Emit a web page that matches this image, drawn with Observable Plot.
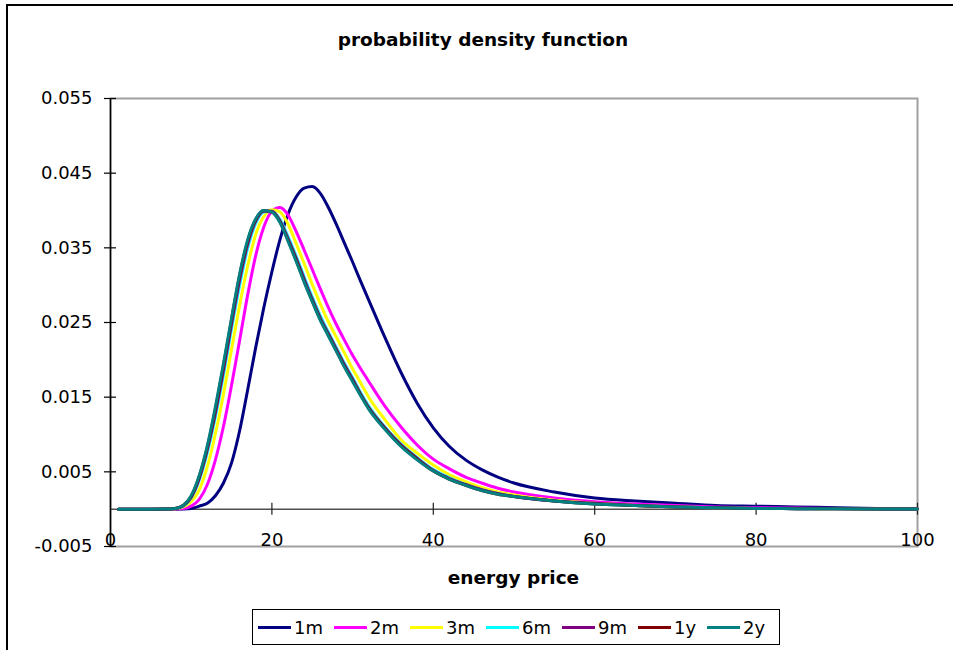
<!DOCTYPE html>
<html>
<head>
<meta charset="utf-8">
<script src="https://cdn.jsdelivr.net/npm/d3@7"></script>
<script src="https://cdn.jsdelivr.net/npm/@observablehq/plot@0.6"></script>
<style>
  html, body { margin: 0; padding: 0; background: #fff; }
  #wrap { position: relative; width: 953px; height: 650px; overflow: hidden; font-family: "DejaVu Sans", sans-serif; color: #000; }
  #border { position: absolute; left: 6px; top: 4px; width: 1000px; height: 700px; border-top: 2px solid #000; border-left: 2px solid #000; }
  #title { position: absolute; left: 0; width: 966px; top: 29px; text-align: center; font-weight: bold; font-size: 18.5px; line-height: 22px; }
  #chart { position: absolute; left: 0; top: 0; }
  #xlabel { position: absolute; left: 110px; width: 807px; top: 567px; text-align: center; font-weight: bold; font-size: 18.5px; line-height: 22px; }
  #legend { position: absolute; left: 252px; top: 609px; width: 521px; height: 34px; border: 1.5px solid #000; display: flex; align-items: center; padding-left: 5px; box-sizing: content-box; gap: 11px; font-size: 18px; }
  .item { display: flex; align-items: center; gap: 3px; }
  .sw { width: 33px; height: 3px; }
</style>
</head>
<body>
<div id="wrap">
  <div id="border"></div>
  <div id="chart"></div>
  <div id="title">probability density function</div>
  <div id="xlabel">energy price</div>
  <div id="legend"></div>
</div>
<script>
// energy price grid
const xs = [1,5,7,8,9,10,11,12,13,14,15,16,17,18,19,20,21,22,23,24,25,26,27,28,29,30,31,32,34,36,38,40,42,44,46,48,50,55,60,65,70,75,80,85,90,95,100];

const s1m = [0,0,0,0,0.00002,0.0001,0.0004,0.0008,0.0018,0.0035,0.0062,0.0105,0.0160,0.0217,0.0270,0.0318,0.0361,0.0395,0.0418,0.0430,0.0432,0.0423,0.0404,0.0381,0.0356,0.0331,0.0305,0.0280,0.0230,0.0183,0.0142,0.0109,0.0084,0.0066,0.0053,0.0043,0.0035,0.0023,0.0015,0.0011,0.0008,0.0005,0.0004,0.0003,0.0002,0.0001,0.00005];
const s2m = [0,0,0,0.00003,0.0001,0.0004,0.0013,0.0033,0.0066,0.0111,0.0166,0.0226,0.0287,0.0340,0.0378,0.0399,0.0404,0.0394,0.0372,0.0347,0.0321,0.0295,0.0270,0.0247,0.0226,0.0206,0.0188,0.0171,0.0138,0.0110,0.0086,0.0067,0.0054,0.0043,0.0035,0.0028,0.0023,0.0015,0.0010,0.0007,0.0005,0.0003,0.0002,0.00015,0.0001,0.00007,0.00005];
const s3m = [0,0,0.00001,0.00005,0.0003,0.0010,0.0026,0.0057,0.0101,0.0154,0.0214,0.0273,0.0326,0.0368,0.0392,0.0401,0.0398,0.0382,0.0356,0.0329,0.0301,0.0275,0.0251,0.0230,0.0209,0.0188,0.0169,0.0150,0.0120,0.0093,0.0075,0.0059,0.0046,0.0037,0.0029,0.0023,0.0019,0.0012,0.0008,0.0005,0.0003,0.0002,0.0001,0.00008,0.00005,0.00003,0.00002];
const s6m = [0,0,0.00001,0.00008,0.0004,0.0015,0.0039,0.0076,0.0124,0.0180,0.0242,0.0300,0.0350,0.0383,0.0398,0.0399,0.0388,0.0365,0.0339,0.0311,0.0284,0.0259,0.0237,0.0216,0.0195,0.0176,0.0156,0.0138,0.0110,0.0087,0.0069,0.0053,0.0042,0.0033,0.0026,0.0021,0.0017,0.0011,0.0007,0.0005,0.0003,0.0002,0.0001,0.00007,0.00004,0.00002,0.00001];
const s9m = [0,0,0.00001,0.00009,0.00045,0.0016,0.0041,0.0080,0.0129,0.0186,0.0248,0.0307,0.0355,0.0386,0.0399,0.0399,0.0386,0.0362,0.0336,0.0308,0.0281,0.0256,0.0235,0.0214,0.0193,0.0174,0.0154,0.0136,0.0109,0.0086,0.0068,0.0052,0.0041,0.0033,0.0026,0.0021,0.0017,0.0011,0.0008,0.0005,0.0003,0.0002,0.0001,0.00007,0.00004,0.00002,0.00001];
const s1y = [0,0,0.00002,0.0001,0.0005,0.0017,0.0044,0.0083,0.0134,0.0192,0.0254,0.0313,0.0359,0.0388,0.0400,0.0398,0.0385,0.0360,0.0334,0.0305,0.0279,0.0254,0.0233,0.0212,0.0191,0.0172,0.0153,0.0135,0.0108,0.0085,0.0067,0.0051,0.0040,0.0032,0.0025,0.0020,0.0017,0.0011,0.0007,0.0005,0.0003,0.0002,0.0001,0.00007,0.00004,0.00002,0.00001];
const s2y = [0,0,0.00002,0.0001,0.0005,0.0018,0.0045,0.0085,0.0137,0.0195,0.0256,0.0315,0.0361,0.0389,0.0400,0.0398,0.0384,0.0359,0.0332,0.0304,0.0278,0.0253,0.0232,0.0211,0.0190,0.0171,0.0152,0.0134,0.0107,0.0084,0.0066,0.0051,0.0040,0.0032,0.0025,0.0020,0.0017,0.0011,0.0007,0.0005,0.0003,0.0002,0.0001,0.00007,0.00004,0.00002,0.00001];

const seriesNames = ["1m","2m","3m","6m","9m","1y","2y"];
const seriesValues = [s1m, s2m, s3m, s6m, s9m, s1y, s2y];
const seriesColors = ["#000080","#FF00FF","#FFFF00","#00FFFF","#800080","#800000","#008080"];

const xTicks = [0,20,40,60,80,100];
const yTicks = [-0.005,0.005,0.015,0.025,0.035,0.045,0.055];

const tables = seriesNames.map((name, i) => xs.map((x, j) => ({x, y: seriesValues[i][j], series: name})));

const lineMarks = tables.map((t, i) => Plot.line(t, {x: "x", y: "y", stroke: seriesColors[i], strokeWidth: 3, curve: "monotone-x"}));

const chart = Plot.plot({
  width: 953,
  height: 560,
  marginLeft: 110,
  marginRight: 36,
  marginTop: 98,
  marginBottom: 14,
  style: {fontFamily: "DejaVu Sans, sans-serif", fontSize: "18px", color: "#000", background: "transparent"},
  x: {domain: [0, 100], axis: null},
  y: {domain: [-0.005, 0.055], axis: null},
  marks: [
    Plot.frame({stroke: "#a0a0a0", strokeWidth: 2}),
    Plot.ruleY([0], {stroke: "#505050", strokeWidth: 1.5}),
    Plot.ruleX(xTicks.slice(1), {x: d => d, y1: 0, y2: 0, insetTop: -6, insetBottom: -6, stroke: "#202020", strokeWidth: 1.2}),
    ...lineMarks,
    Plot.ruleX([0], {stroke: "#000", strokeWidth: 1.5}),
    Plot.ruleY(yTicks, {y: d => d, x1: 0, x2: 0, insetLeft: -6, insetRight: -6, stroke: "#000", strokeWidth: 1.2}),
    Plot.axisY(yTicks, {tickSize: 0, tickPadding: 18, tickFormat: d => d.toFixed(3), label: null, fontSize: 18}),
    Plot.text(xTicks, {x: d => d, y: -0.005, text: d => String(d), lineAnchor: "bottom", dy: -1, fontSize: 18, fill: "#000"})
  ]
});
document.getElementById("chart").appendChild(chart);

const legend = document.getElementById("legend");
seriesNames.forEach((name, i) => {
  const item = document.createElement("div");
  item.className = "item";
  const sw = document.createElement("div");
  sw.className = "sw";
  sw.style.background = seriesColors[i];
  const lab = document.createElement("span");
  lab.textContent = name;
  item.appendChild(sw);
  item.appendChild(lab);
  legend.appendChild(item);
});
</script>
</body>
</html>
